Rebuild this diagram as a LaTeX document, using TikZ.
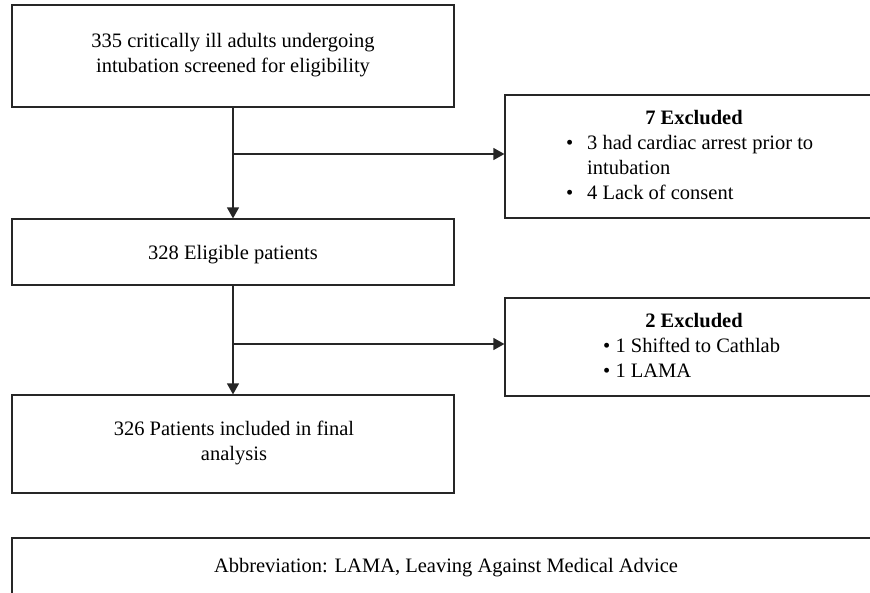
\documentclass[tikz,border=0pt]{standalone}
\usepackage{fontspec}
\setmainfont{Liberation Serif}
\usetikzlibrary{arrows.meta}
\begin{document}
\begin{tikzpicture}[x=1pt,y=-1pt,
  box/.style={draw=black!85, line width=1.2pt, inner sep=0pt, align=center},
  txt/.style={inner sep=0pt, font=\fontsize{20.5}{25}\selectfont},
  arr/.style={draw=black!85, line width=1.2pt, -{Triangle[length=11pt,width=12pt]}},
  ln/.style={draw=black!85, line width=1.2pt}]
\useasboundingbox (0,0) rectangle (870,592);
\clip (0,0) rectangle (870,592);
% boxes
\node[box, minimum width=442pt, minimum height=102pt] (b1) at (233,56) {};
\node[txt, anchor=base] (t1a) at (233,47) {335 critically ill adults undergoing};
\node[txt, anchor=base] (t1b) at (233,72) {intubation screened for eligibility};
\node[box, minimum width=442pt, minimum height=66pt] (b3) at (233,252) {};
\node[txt, anchor=base] (t3) at (233,259) {328 Eligible patients};
\node[box, minimum width=442pt, minimum height=98pt] (b5) at (233,444) {};
\node[txt, anchor=base] (t5a) at (234,435) {326 Patients included in final};
\node[txt, anchor=base] (t5b) at (234,460) {analysis};
\node[box, minimum width=366pt, minimum height=123pt] (b2) at (688,156.5) {};
\node[txt, anchor=base, font=\fontsize{20.5}{25}\selectfont\bfseries] (h2) at (694,124) {7 Excluded};
\node[txt, anchor=base west] (l2a) at (566,149) {•};
\node[txt, anchor=base west] (l2b) at (587,149) {3 had cardiac arrest prior to};
\node[txt, anchor=base west] (l2c) at (587,174) {intubation};
\node[txt, anchor=base west] (l2d) at (566,199) {•};
\node[txt, anchor=base west] (l2e) at (587,199) {4 Lack of consent};
\node[box, minimum width=366pt, minimum height=98pt] (b4) at (688,347) {};
\node[txt, anchor=base, font=\fontsize{20.5}{25}\selectfont\bfseries] (h4) at (694,327) {2 Excluded};
\node[txt, anchor=base west] (l4a) at (603,352) {• 1 Shifted to Cathlab};
\node[txt, anchor=base west] (l4b) at (603,377) {• 1 LAMA};
\node[box, minimum width=870pt, minimum height=80pt] (b6) at (447,578) {};
\node[txt, anchor=base] (t6) at (446,572) {Abbreviation: LAMA, Leaving Against Medical Advice};
% connectors
\coordinate (j1) at (233,154);
\coordinate (j2) at (233,344);
\draw[arr] (b1.south) -- (b3.north);
\draw[arr] (j1) -- (j1 -| b2.west);
\draw[arr] (b3.south) -- (b5.north);
\draw[arr] (j2) -- (j2 -| b4.west);
\end{tikzpicture}
\end{document}
